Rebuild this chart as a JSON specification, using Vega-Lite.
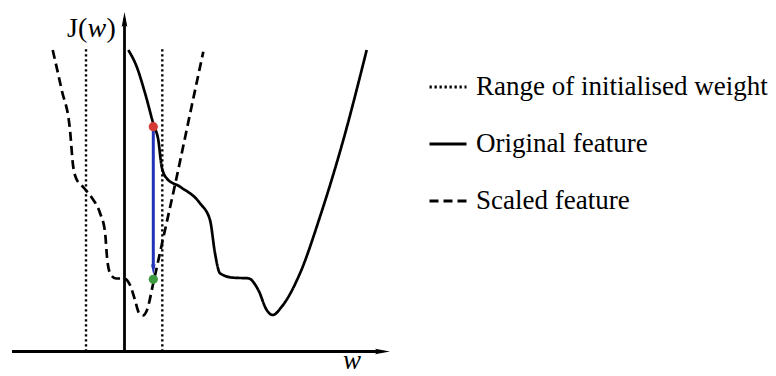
{
  "$schema": "https://vega.github.io/schema/vega-lite/v6.json",
  "width": 776,
  "height": 376,
  "padding": 0,
  "autosize": {"type": "none"},
  "background": "white",
  "config": {"view": {"stroke": null}, "axis": {"disable": true}},
  "datasets": {
    "curves": [
      {"series": "Original feature", "w": 3.8, "J": 301.5},
      {"series": "Original feature", "w": 12.2, "J": 284.8},
      {"series": "Original feature", "w": 20.5, "J": 258.5},
      {"series": "Original feature", "w": 29.2, "J": 226.5},
      {"series": "Original feature", "w": 33.8, "J": 211.5},
      {"series": "Original feature", "w": 37.2, "J": 184.8},
      {"series": "Original feature", "w": 42.2, "J": 173.2},
      {"series": "Original feature", "w": 55.5, "J": 164.8},
      {"series": "Original feature", "w": 75.5, "J": 148.2},
      {"series": "Original feature", "w": 85.5, "J": 131.5},
      {"series": "Original feature", "w": 90.5, "J": 98.2},
      {"series": "Original feature", "w": 95.5, "J": 78.2},
      {"series": "Original feature", "w": 108.8, "J": 73.8},
      {"series": "Original feature", "w": 123.8, "J": 73.2},
      {"series": "Original feature", "w": 133.8, "J": 61.5},
      {"series": "Original feature", "w": 142.2, "J": 41.5},
      {"series": "Original feature", "w": 148.2, "J": 36.5},
      {"series": "Original feature", "w": 157.2, "J": 44.8},
      {"series": "Original feature", "w": 175.5, "J": 78.2},
      {"series": "Original feature", "w": 195.5, "J": 134.8},
      {"series": "Original feature", "w": 218.8, "J": 211.5},
      {"series": "Original feature", "w": 242.2, "J": 301.5},
      {"series": "Scaled feature", "w": -71.8, "J": 301.5},
      {"series": "Scaled feature", "w": -62.8, "J": 261.5},
      {"series": "Scaled feature", "w": -54.5, "J": 221.5},
      {"series": "Scaled feature", "w": -51.5, "J": 186.5},
      {"series": "Scaled feature", "w": -48.5, "J": 173.5},
      {"series": "Scaled feature", "w": -40.5, "J": 163.5},
      {"series": "Scaled feature", "w": -32.5, "J": 153.5},
      {"series": "Scaled feature", "w": -24.5, "J": 138.5},
      {"series": "Scaled feature", "w": -19.5, "J": 119.5},
      {"series": "Scaled feature", "w": -17, "J": 89.5},
      {"series": "Scaled feature", "w": -13.5, "J": 76.5},
      {"series": "Scaled feature", "w": -8.5, "J": 73},
      {"series": "Scaled feature", "w": -0.5, "J": 73},
      {"series": "Scaled feature", "w": 5.5, "J": 66.5},
      {"series": "Scaled feature", "w": 10.5, "J": 51.5},
      {"series": "Scaled feature", "w": 14.5, "J": 38.5},
      {"series": "Scaled feature", "w": 18.5, "J": 36},
      {"series": "Scaled feature", "w": 22.5, "J": 41.5},
      {"series": "Scaled feature", "w": 28.8, "J": 68.5},
      {"series": "Scaled feature", "w": 37.2, "J": 106.5},
      {"series": "Scaled feature", "w": 52.2, "J": 174.5},
      {"series": "Scaled feature", "w": 67.2, "J": 245.5},
      {"series": "Scaled feature", "w": 78.8, "J": 299.8}
    ],
    "range": [
      {"series": "Range of initialised weight", "w": -38.5, "J0": 0, "J1": 303.5},
      {"series": "Range of initialised weight", "w": 37.8, "J0": 0, "J1": 303.5}
    ],
    "points": [
      {"state": "initial", "w": 28.8, "J": 224.8},
      {"state": "final", "w": 28.8, "J": 72.2}
    ],
    "one": [{}]
  },
  "layer": [
    {
      "data": {"name": "range"},
      "mark": {"type": "rule", "color": "black", "strokeCap": "butt", "strokeWidth": 2.4},
      "encoding": {
        "x": {"field": "w", "type": "quantitative", "axis": null, "scale": {"domain": [-124.5, 651.5], "nice": false, "zero": false}},
        "y": {"field": "J0", "type": "quantitative", "axis": null, "scale": {"domain": [-24.5, 351.5], "nice": false, "zero": false}},
        "y2": {"field": "J1"},
        "strokeDash": {
          "field": "series", "type": "nominal",
          "scale": {"domain": ["Range of initialised weight", "Original feature", "Scaled feature"], "range": [[2.3, 2.7], [1, 0], [9, 5]]},
          "legend": {"orient": "none", "legendX": 428, "legendY": 67, "title": null, "labelFont": "Liberation Serif", "labelFontSize": 27, "labelColor": "black", "labelLimit": 0, "symbolType": "stroke", "symbolSize": 1369, "symbolStrokeColor": "black", "symbolStrokeWidth": 2.8, "rowPadding": 24, "labelOffset": 8, "padding": 0}
        }
      }
    },
    {
      "data": {"name": "curves"},
      "mark": {"type": "line", "color": "black", "interpolate": "monotone", "strokeCap": "butt", "strokeWidth": 2.7},
      "encoding": {
        "x": {"field": "w", "type": "quantitative", "axis": null},
        "y": {"field": "J", "type": "quantitative", "axis": null},
        "strokeDash": {"field": "series", "type": "nominal"}
      }
    },
    {
      "data": {"name": "one"},
      "mark": {"type": "rule", "color": "black", "strokeWidth": 2.8},
      "encoding": {"x": {"datum": -112.5}, "x2": {"datum": 258}, "y": {"datum": 0}}
    },
    {
      "data": {"name": "one"},
      "mark": {"type": "rule", "color": "black", "strokeWidth": 2.8},
      "encoding": {"x": {"datum": 0}, "y": {"datum": 0}, "y2": {"datum": 333}}
    },
    {
      "data": {"name": "one"},
      "mark": {"type": "point", "shape": "M1,0L-1,-0.38L-0.65,0L-1,0.38Z", "size": 225, "filled": true, "color": "black", "opacity": 1, "strokeWidth": 0},
      "encoding": {"x": {"datum": 258}, "y": {"datum": 0}}
    },
    {
      "data": {"name": "one"},
      "mark": {"type": "point", "shape": "M0,-1L-0.38,1L0,0.65L0.38,1Z", "size": 225, "filled": true, "color": "black", "opacity": 1, "strokeWidth": 0},
      "encoding": {"x": {"datum": 0}, "y": {"datum": 332}}
    },
    {
      "data": {"name": "one"},
      "mark": {"type": "rule", "color": "#2333b8", "strokeWidth": 3},
      "encoding": {"x": {"datum": 28.8}, "y": {"datum": 222}, "y2": {"datum": 84}}
    },
    {
      "data": {"name": "one"},
      "mark": {"type": "point", "shape": "M0,1L-0.42,-1L0,-0.6L0.42,-1Z", "size": 121, "filled": true, "color": "#2333b8", "opacity": 1, "strokeWidth": 0},
      "encoding": {"x": {"datum": 28.8}, "y": {"datum": 82}}
    },
    {
      "data": {"name": "points"},
      "mark": {"type": "circle", "size": 85, "opacity": 1},
      "encoding": {
        "x": {"field": "w", "type": "quantitative", "axis": null},
        "y": {"field": "J", "type": "quantitative", "axis": null},
        "color": {"field": "state", "type": "nominal", "scale": {"domain": ["initial", "final"], "range": ["#d63a35", "#3d9a3f"]}, "legend": null}
      }
    },
    {
      "data": {"name": "one"},
      "mark": {"type": "text", "text": "J(", "font": "Liberation Serif", "fontSize": 28, "align": "left", "baseline": "alphabetic", "color": "black"},
      "encoding": {"x": {"datum": -57.5}, "y": {"datum": 314.5}}
    },
    {
      "data": {"name": "one"},
      "mark": {"type": "text", "text": "w", "font": "Liberation Serif", "fontStyle": "italic", "fontSize": 28, "align": "left", "baseline": "alphabetic", "color": "black"},
      "encoding": {"x": {"datum": -37}, "y": {"datum": 314.5}}
    },
    {
      "data": {"name": "one"},
      "mark": {"type": "text", "text": ")", "font": "Liberation Serif", "fontSize": 28, "align": "left", "baseline": "alphabetic", "color": "black"},
      "encoding": {"x": {"datum": -18}, "y": {"datum": 314.5}}
    },
    {
      "data": {"name": "one"},
      "mark": {"type": "text", "text": "w", "font": "Liberation Serif", "fontStyle": "italic", "fontSize": 27, "align": "left", "baseline": "alphabetic", "color": "black"},
      "encoding": {"x": {"datum": 218.5}, "y": {"datum": -17.5}}
    }
  ]
}
